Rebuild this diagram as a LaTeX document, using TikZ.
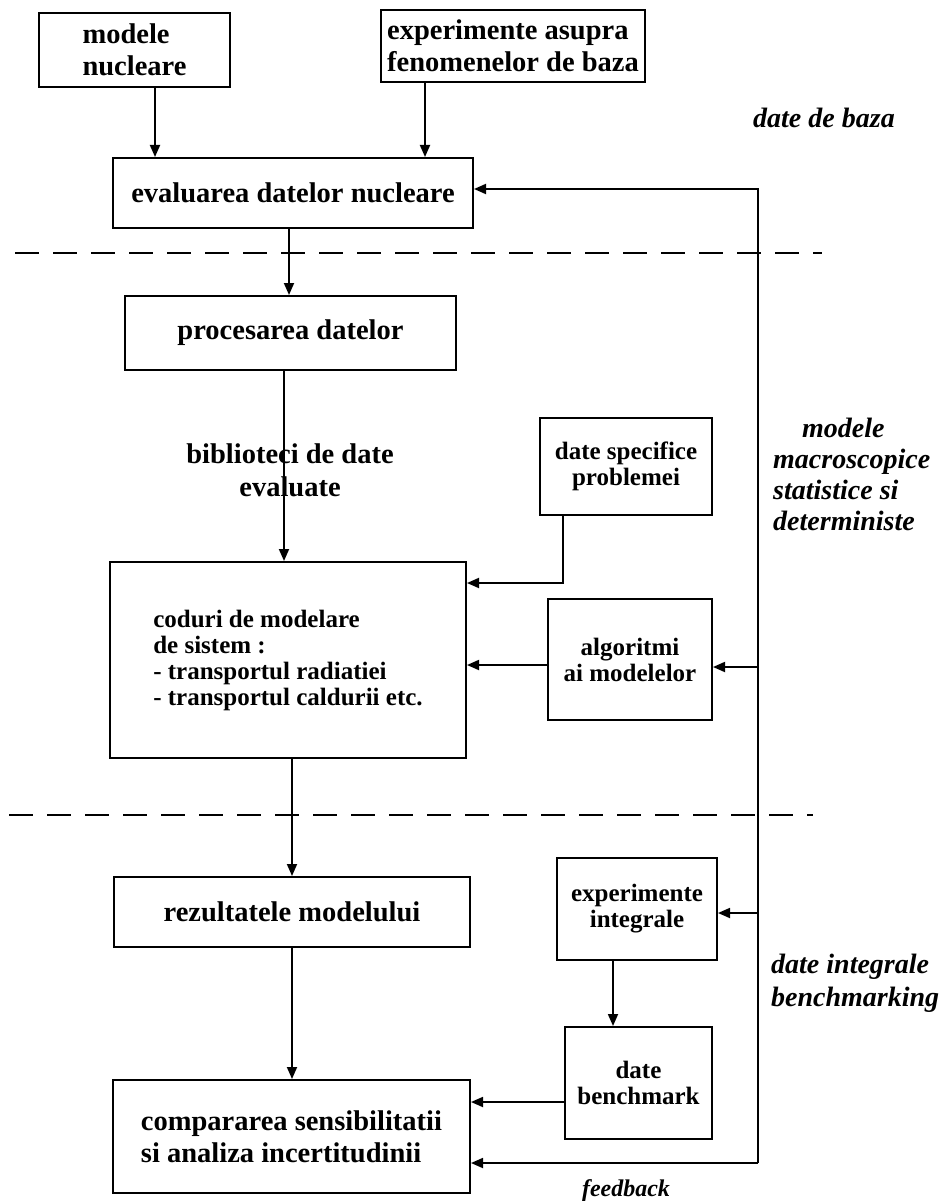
\documentclass[tikz,border=0pt]{standalone}
\usepackage{fontspec}
\setmainfont{Liberation Serif}
\usetikzlibrary{arrows.meta}

\begin{document}
\begin{tikzpicture}[x=1pt,y=-1pt,
  box/.style={draw, line width=2pt, inner sep=0pt, align=center,
    font=\fontsize{28.5}{32}\selectfont\bfseries},
  smalltext/.style={font=\fontsize{25}{26}\selectfont\bfseries},
  lab/.style={inner sep=0pt, align=left,
    font=\fontsize{28}{31}\selectfont\bfseries\itshape},
  arr/.style={line width=1.8pt, -{Triangle[length=12pt,width=10pt]}},
  sep/.style={line width=2pt, dash pattern=on 24pt off 14pt}]

\useasboundingbox (0,0) rectangle (944,1201);

% boxes
\node[box, align=left, minimum width=191pt, minimum height=74pt] (mod) at (134.5,50) {modele\\nucleare};
\node[box, align=left, minimum width=264pt, minimum height=72pt] (exp) at (513,46) {experimente asupra\\fenomenelor de baza};
\node[box, minimum width=360pt, minimum height=70pt] (eval) at (293,193) {evaluarea datelor nucleare};
\node[box, minimum width=331pt, minimum height=74pt] (proc) at (290.5,333) {procesarea datelor};
\node[box, smalltext, minimum width=172pt, minimum height=97pt] (spec) at (626,466.5) {date specifice\\problemei};
\node[box, smalltext, align=left, minimum width=356pt, minimum height=196pt] (cod) at (288,660)
  {coduri de modelare\\de sistem :\\- transportul radiatiei\\- transportul caldurii etc.};
\node[box, smalltext, minimum width=164pt, minimum height=121pt] (alg) at (630,659.5) {algoritmi\\ai modelelor};
\node[box, minimum width=356pt, minimum height=70pt] (rez) at (292,912) {rezultatele modelului};
\node[box, smalltext, minimum width=160pt, minimum height=102pt] (expi) at (637,909) {experimente\\integrale};
\node[box, smalltext, minimum width=147pt, minimum height=112pt] (bench) at (638.5,1083) {date\\benchmark};
\node[box, align=left, minimum width=357pt, minimum height=113pt] (cmp) at (291.5,1136.5) {compararea sensibilitatii\\si analiza incertitudinii};

% label on the library link
\node[inner sep=0pt, align=center, font=\fontsize{28.5}{33}\selectfont\bfseries] (bib) at (290,470) {biblioteci de date\\evaluate};

% side labels
\node[lab, anchor=base west] (baza) at (753,128) {date de baza};
\node[lab, anchor=north west] (macro) at (773,418) {\hspace*{29pt}modele\\macroscopice\\statistice si\\deterministe};
\node[lab, anchor=north west, font=\fontsize{28}{33}\selectfont\bfseries\itshape] (integr) at (771,954) {date integrale\\benchmarking};
\node[lab, anchor=base, font=\fontsize{24}{26}\selectfont\bfseries\itshape] (fbk) at (626,1196) {feedback};

% level separators
\draw[sep] (15,253) -- (822,253);
\draw[sep] (9,815) -- (813,815);

% main flow
\draw[arr] ([xshift=20.5pt]mod.south) -- ([xshift=20.5pt]mod.south |- eval.north);
\draw[arr] ([xshift=-88pt]exp.south) -- ([xshift=-88pt]exp.south |- eval.north);
\draw[arr] ([xshift=-4pt]eval.south) -- ([xshift=-4pt]eval.south |- proc.north);
\draw[arr] ([xshift=-6.5pt]proc.south) -- ([xshift=-6.5pt]proc.south |- cod.north);
\draw[arr] ([xshift=-63pt]spec.south) |- ([yshift=77pt]cod.east);
\draw[arr] ([yshift=-5.5pt]alg.west) -- ([yshift=-5.5pt]alg.west -| cod.east);
\draw[arr] ([xshift=4pt]cod.south) -- ([xshift=4pt]cod.south |- rez.north);
\draw[arr] (rez.south) -- (rez.south |- cmp.north);
\draw[arr] ([xshift=-24pt]expi.south) -- ([xshift=-24pt]expi.south |- bench.north);
\draw[arr] ([yshift=-19pt]bench.west) -- ([yshift=-19pt]bench.west -| cmp.east);

% feedback loop
\coordinate (fb) at (758,1163);
\draw[arr] (fb) -- (fb -| cmp.east);
\draw[arr] (fb) |- ([yshift=4pt]eval.east);
\draw[arr] ([yshift=-7.5pt]alg.east -| fb) -- ([yshift=-7.5pt]alg.east);
\draw[arr] ([yshift=-4pt]expi.east -| fb) -- ([yshift=-4pt]expi.east);

\end{tikzpicture}
\end{document}
